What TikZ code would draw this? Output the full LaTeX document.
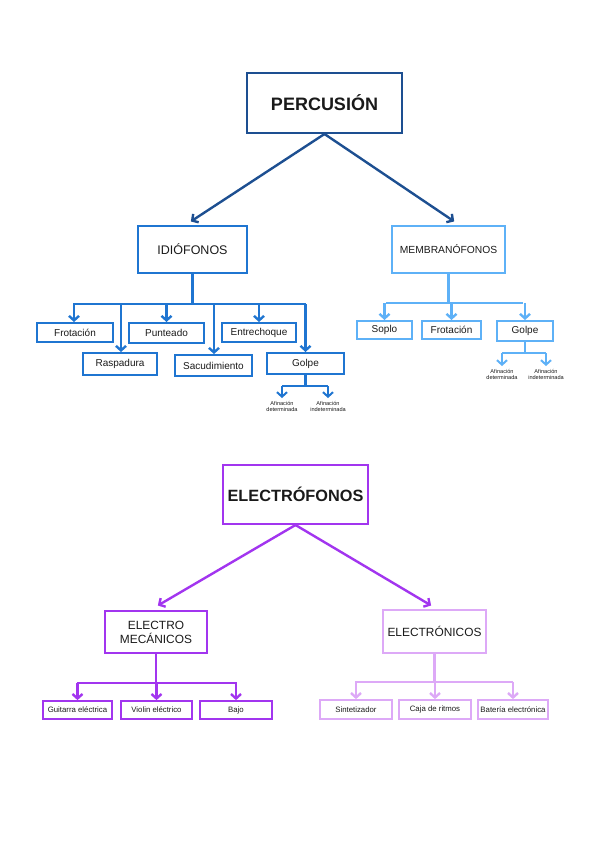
\documentclass[tikz,border=0pt]{standalone}
\usepackage{fontspec}
\setmainfont{Liberation Sans}
\usetikzlibrary{arrows.meta, positioning}

\definecolor{percblue}{HTML}{1D4F91}
\definecolor{idioblue}{HTML}{1F75D1}
\definecolor{membrblue}{HTML}{5EB1F7}
\definecolor{elecpurple}{HTML}{A235EF}
\definecolor{tronpurple}{HTML}{DDA9F7}
\definecolor{textgray}{HTML}{1A1A1A}

\tikzset{
  box/.style={draw, line width=2pt, inner sep=0pt, text=textgray, align=center},
  leaf/.style={box, font=\fontsize{10}{12}\selectfont},
  small leaf/.style={box, line width=1.8pt, font=\fontsize{7.8}{9}\selectfont},
  tiny label/.style={inner sep=0pt, text=textgray, align=center, font=\fontsize{5.6}{6.4}\selectfont},
  link/.style={line width=2.4pt},
  arrow/.style={link, -{Straight Barb[length=4.5pt,width=10pt]}}
}

\begin{document}
\begin{tikzpicture}[x=1pt, y=-1pt]
    \useasboundingbox (0,0) rectangle (599,848);

    % Percusion
    \node[box, draw=percblue, minimum width=155pt, minimum height=60pt,
          font=\bfseries\fontsize{18}{20}\selectfont] (perc) at (324.5,103) {PERCUSIÓN};
    \node[box, draw=idioblue, minimum width=109pt, minimum height=47pt,
          font=\fontsize{12.5}{14}\selectfont] (idio) at (192.5,249.5) {IDIÓFONOS};
    \node[box, draw=membrblue, minimum width=113pt, minimum height=47pt,
          font=\fontsize{10.3}{12}\selectfont] (membr) at (448.5,249.5) {MEMBRANÓFONOS};

    \draw[arrow, percblue, shorten >=1pt] (perc.south) -- (190,222);
    \draw[arrow, percblue, shorten >=1pt] (perc.south) -- (455,222);

    % Idiofonos
    \begin{scope}[every node/.style={leaf, draw=idioblue}]
      \node[minimum width=76pt, minimum height=19pt] (frot) at (75,332.5) {Frotación};
      \node[minimum width=75pt, minimum height=20pt] (punt) at (166.5,333) {Punteado};
      \node[minimum width=74pt, minimum height=19pt] (entr) at (259,332.5) {Entrechoque};
      \node[minimum width=74pt, minimum height=22pt] (rasp) at (120,364) {Raspadura};
      \node[minimum width=77pt, minimum height=21pt] (sacu) at (213.5,365.5) {Sacudimiento};
      \node[minimum width=77pt, minimum height=21pt] (golpe) at (305.5,363.5) {Golpe};
    \end{scope}

    \draw[link, idioblue] (idio.south) -- (idio.south |- 0,304);
    \draw[link, idioblue, line cap=rect] (74,304) -- (305,304);
    \draw[arrow, idioblue] (74,304) -- (frot.north -| 74,0);
    \draw[arrow, idioblue] (121,304) -- (rasp.north -| 121,0);
    \draw[arrow, idioblue] (punt.north |- 0,304) -- (punt.north);
    \draw[arrow, idioblue] (214,304) -- (sacu.north -| 214,0);
    \draw[arrow, idioblue] (entr.north |- 0,304) -- (entr.north);
    \draw[arrow, idioblue] (golpe.north |- 0,304) -- (golpe.north);

    \node[tiny label] (gdet) at (282,406.5) {Afinación\\determinada};
    \node[tiny label] (gind) at (328,406.5) {Afinación\\indeterminada};
    \draw[link, idioblue] (golpe.south) -- (golpe.south |- 0,386);
    \draw[link, idioblue] (282,386) -- (328,386);
    \draw[arrow, idioblue, line width=2pt] (gdet.north |- 0,386) -- ([yshift=3pt]gdet.north);
    \draw[arrow, idioblue, line width=2pt] (gind.north |- 0,386) -- ([yshift=3pt]gind.north);

    % Membranofonos
    \begin{scope}[every node/.style={leaf, draw=membrblue}]
      \node[minimum width=55pt, minimum height=18pt] (soplo) at (384.5,330) {Soplo};
      \node[minimum width=59pt, minimum height=18pt] (mfrot) at (451.5,330) {Frotación};
      \node[minimum width=56pt, minimum height=20pt] (mgolpe) at (525,331) {Golpe};
    \end{scope}

    \draw[link, membrblue] (membr.south) -- (membr.south |- 0,303);
    \draw[link, membrblue] (386,303) -- (523,303);
    \draw[arrow, membrblue] (soplo.north |- 0,303) -- (soplo.north);
    \draw[arrow, membrblue] (mfrot.north |- 0,303) -- (mfrot.north);
    \draw[arrow, membrblue] (mgolpe.north |- 0,303) -- (mgolpe.north);

    \node[tiny label] (mdet) at (502,374.5) {Afinación\\determinada};
    \node[tiny label] (mind) at (546,374.5) {Afinación\\indeterminada};
    \draw[link, membrblue] (mgolpe.south) -- (mgolpe.south |- 0,353);
    \draw[link, membrblue] (502,353) -- (546,353);
    \draw[arrow, membrblue, line width=2pt] (mdet.north |- 0,353) -- ([yshift=3pt]mdet.north);
    \draw[arrow, membrblue, line width=2pt] (mind.north |- 0,353) -- ([yshift=3pt]mind.north);

    % Electrofonos
    \node[box, draw=elecpurple, minimum width=145pt, minimum height=59pt,
          font=\bfseries\fontsize{16.3}{18}\selectfont] (elec) at (295.5,494.5) {ELECTRÓFONOS};
    \node[box, draw=elecpurple, minimum width=102pt, minimum height=42pt,
          font=\fontsize{11.9}{14}\selectfont] (emec) at (156,632) {ELECTRO\\MECÁNICOS};
    \node[box, draw=tronpurple, minimum width=103pt, minimum height=43pt,
          font=\fontsize{11.9}{14}\selectfont] (etron) at (434.5,631.5) {ELECTRÓNICOS};

    \draw[arrow, elecpurple, shorten >=1pt] (elec.south) -- (157,606);
    \draw[arrow, elecpurple, shorten >=1pt] (elec.south) -- (432,606);

    % Electromecanicos
    \begin{scope}[every node/.style={small leaf, draw=elecpurple}]
      \node[minimum width=69pt, minimum height=18pt] (guit) at (77.5,710) {Guitarra eléctrica};
      \node[minimum width=71pt, minimum height=18pt] (viol) at (156.5,710) {Violin eléctrico};
      \node[minimum width=72pt, minimum height=18pt] (bajo) at (236,710) {Bajo};
    \end{scope}

    \draw[link, elecpurple] (emec.south) -- (emec.south |- 0,683);
    \draw[link, elecpurple] (77,683) -- (237,683);
    \draw[arrow, elecpurple] (guit.north |- 0,683) -- (guit.north);
    \draw[arrow, elecpurple] (viol.north |- 0,683) -- (viol.north);
    \draw[arrow, elecpurple] (bajo.north |- 0,683) -- (bajo.north);

    % Electronicos
    \begin{scope}[every node/.style={small leaf, draw=tronpurple}]
      \node[minimum width=72pt, minimum height=19pt] (sint) at (356,709.5) {Sintetizador};
      \node[minimum width=72pt, minimum height=19pt] (caja) at (435,709.5) {Caja de ritmos};
      \node[minimum width=70pt, minimum height=19pt] (bat) at (513,709.5) {Batería electrónica};
    \end{scope}

    \draw[link, tronpurple] (etron.south) -- (etron.south |- 0,682);
    \draw[link, tronpurple] (355,682) -- (513,682);
    \draw[arrow, tronpurple] (sint.north |- 0,682) -- (sint.north);
    \draw[arrow, tronpurple] (caja.north |- 0,682) -- (caja.north);
    \draw[arrow, tronpurple] (bat.north |- 0,682) -- (bat.north);
\end{tikzpicture}
\end{document}
